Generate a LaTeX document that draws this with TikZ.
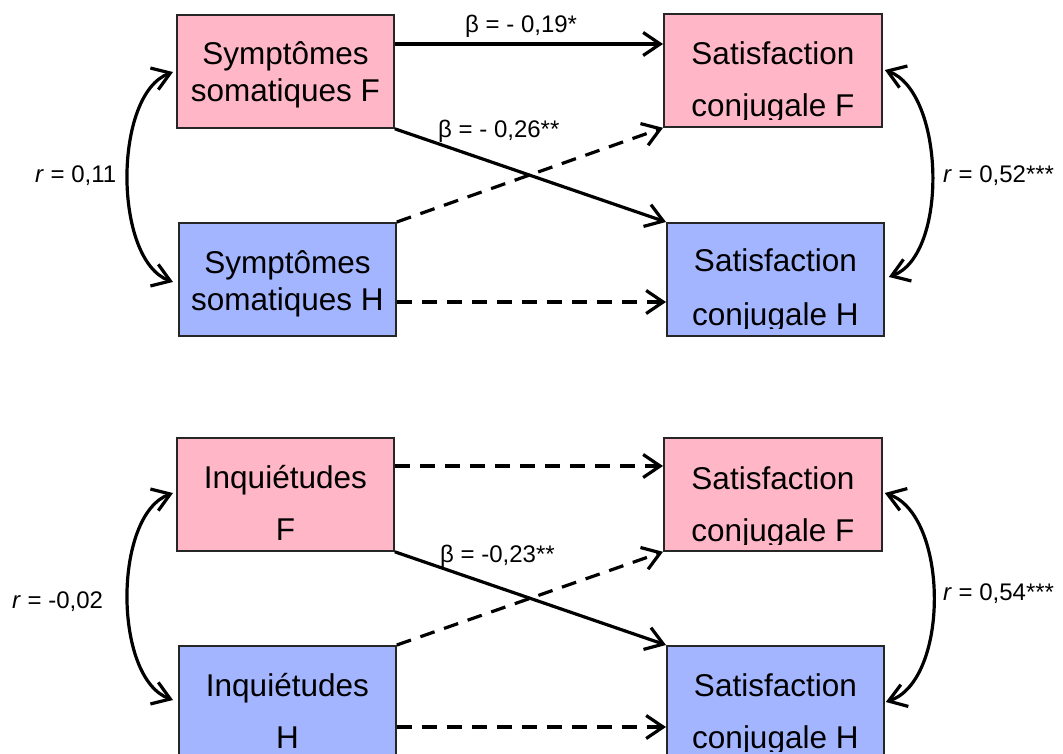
\documentclass[tikz,border=0pt]{standalone}
\usepackage{fontspec}
\setmainfont{Liberation Sans}
\usetikzlibrary{arrows.meta,calc}
\definecolor{pinkfill}{RGB}{255,183,200}
\definecolor{bluefill}{RGB}{163,181,255}
\begin{document}
\begin{tikzpicture}[x=1pt,y=-1pt,
  box/.style={draw=black!85, line width=1.8pt, minimum width=217pt, minimum height=113pt, anchor=north west, inner sep=0pt},
  pinkbox/.style={box, fill=pinkfill},
  bluebox/.style={box, fill=bluefill},
  boxtext/.style={font=\fontsize{31.5}{37}\selectfont, anchor=base, inner sep=0pt},
  lab/.style={font=\fontsize{24}{28}\selectfont, anchor=base west, inner sep=0pt},
  arr/.style={line width=3.2pt, -{Straight Barb[length=17pt,width=23pt]}},
  dasharr/.style={arr, dash pattern=on 15pt off 10pt},
  corr/.style={line width=3.2pt, {Straight Barb[length=17pt,width=23pt]}-{Straight Barb[length=17pt,width=23pt]}},
]
\useasboundingbox (0,0) rectangle (1063,754);
\clip (0,0) rectangle (1063,754);

% ---------- top panel ----------
\node[pinkbox] (sf) at (176,14) {};
\node[pinkbox, minimum width=218pt] (satf) at (663,13) {};
\node[bluebox] (sh) at (178,222) {};
\node[bluebox] (sath) at (666,222) {};

\node[boxtext] (sf1) at ([yshift=-51pt]sf.north) {Symptômes};
\node[boxtext] (sf2) at ([yshift=-88pt]sf.north) {somatiques F};
\node[boxtext] (sh1) at ([yshift=-51pt]sh.north) {Symptômes};
\node[boxtext] (sh2) at ([yshift=-88pt]sh.north) {somatiques H};
\begin{scope}
\clip (satf.north west) rectangle ([yshift=-107pt]satf.north east);
\node[boxtext] (satf1) at ([yshift=-52pt]satf.north) {Satisfaction};
\node[boxtext] (satf2t) at ([yshift=-104pt]satf.north) {conjugale F};
\end{scope}
\begin{scope}
\clip (sath.north west) rectangle ([yshift=-106pt]sath.north east);
\node[boxtext] (sath1) at ([yshift=-50pt]sath.north) {Satisfaction};
\node[boxtext] (sath2t) at ([yshift=-103pt]sath.north) {conjugale H};
\end{scope}

\draw[arr] ([yshift=-30pt]sf.north east) -- ([yshift=-31pt]satf.north west);
\draw[arr] (sf.south east) -- (sath.north west);
\draw[dasharr] (sh.north east) -- (satf.south west);
\draw[dasharr] ([yshift=-80pt]sh.north east) -- ([yshift=-80pt]sath.north west);

\coordinate (cl1) at ([xshift=-3pt,yshift=-58pt]sf.north west);
\coordinate (cl2) at ([xshift=-5pt,yshift=-60pt]sh.north west);
\draw[corr] (cl1) .. controls ($(cl1)+(-60,22)$) and ($(cl2)+(-60,-22)$) .. (cl2);
\coordinate (cr1) at ([xshift=2pt,yshift=-57pt]satf.north east);
\coordinate (cr2) at ([xshift=4pt,yshift=-55pt]sath.north east);
\draw[corr] (cr1) .. controls ($(cr1)+(60,22)$) and ($(cr2)+(60,-22)$) .. (cr2);

\node[lab] (b1) at (465,33) {β = - 0,19*};
\node[lab] (b2) at (438,138) {β = - 0,26**};
\node[lab] (r1) at (35,183) {\textit{r} = 0,11};
\node[lab] (r2) at (943,183) {\textit{r} = 0,52***};

% ---------- bottom panel ----------
\node[pinkbox] (if) at (176,437) {};
\node[pinkbox, minimum width=218pt] (satfb) at (663,437) {};
\node[bluebox] (ih) at (178,645) {};
\node[bluebox] (sathb) at (666,645) {};

\node[boxtext] (if1) at ([yshift=-51pt]if.north) {Inquiétudes};
\node[boxtext] (if2) at ([yshift=-103pt]if.north) {F};
\node[boxtext] (ih1) at ([yshift=-51pt]ih.north) {Inquiétudes};
\node[boxtext] (ih2) at ([yshift=-103pt]ih.north) {H};
\begin{scope}
\clip (satfb.north west) rectangle ([yshift=-107pt]satfb.north east);
\node[boxtext] (satfb1) at ([yshift=-52pt]satfb.north) {Satisfaction};
\node[boxtext] (satfb2) at ([yshift=-104pt]satfb.north) {conjugale F};
\end{scope}
\begin{scope}
\clip (sathb.north west) rectangle ([yshift=-106pt]sathb.north east);
\node[boxtext] (sathb1) at ([yshift=-51pt]sathb.north) {Satisfaction};
\node[boxtext] (sathb2) at ([yshift=-103pt]sathb.north) {conjugale H};
\end{scope}

\draw[dasharr] ([yshift=-29pt]if.north east) -- ([yshift=-29pt]satfb.north west);
\draw[arr] (if.south east) -- (sathb.north west);
\draw[dasharr] (ih.north east) -- (satfb.south west);
\draw[dasharr] ([yshift=-82pt]ih.north east) -- ([yshift=-82pt]sathb.north west);

\coordinate (cl3) at ([xshift=-3pt,yshift=-56pt]if.north west);
\coordinate (cl4) at ([xshift=-5pt,yshift=-55pt]ih.north west);
\draw[corr] (cl3) .. controls ($(cl3)+(-60,22)$) and ($(cl4)+(-60,-22)$) .. (cl4);
\coordinate (cr3) at ([xshift=2pt,yshift=-56pt]satfb.north east);
\coordinate (cr4) at ([xshift=1pt,yshift=-57pt]sathb.north east);
\draw[corr] (cr3) .. controls ($(cr3)+(64,22)$) and ($(cr4)+(64,-22)$) .. (cr4);

\node[lab] (b3) at (440,562) {β = -0,23**};
\node[lab] (r3) at (12,608) {\textit{r} = -0,02};
\node[lab] (r4) at (943,600) {\textit{r} = 0,54***};
\end{tikzpicture}
\end{document}
